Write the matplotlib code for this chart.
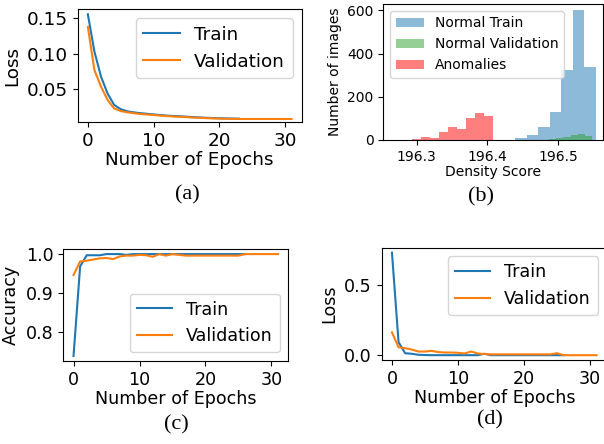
import numpy as np
import matplotlib
matplotlib.use("Agg")
import matplotlib.pyplot as plt

# (a) autoencoder loss per epoch
ae_train_loss = [0.1556, 0.103, 0.068, 0.044, 0.028, 0.022, 0.0190, 0.0175, 0.0164, 0.0155,
                 0.0146, 0.0137, 0.0130, 0.0124, 0.0120, 0.0114, 0.0108, 0.0104, 0.0099, 0.0095,
                 0.0092, 0.0090, 0.0088, 0.0086]
ae_val_loss = [0.138, 0.077, 0.0537, 0.035, 0.023, 0.0194, 0.0176, 0.0163, 0.0153, 0.0145,
               0.0138, 0.0130, 0.0123, 0.0117, 0.0112, 0.0108, 0.0102, 0.0098, 0.0094, 0.0090,
               0.0087, 0.0085, 0.0083, 0.0082, 0.0082, 0.0082, 0.0082, 0.0082, 0.0082, 0.0082,
               0.0082, 0.0082]

# (b) density score histograms (bin edges and counts)
train_edges = [196.4062, 196.4225, 196.4388, 196.4552, 196.4715, 196.4878, 196.5042,
               196.5205, 196.5369, 196.5532]
train_counts = [2, 2, 11, 23, 62, 129, 322, 600, 336]
val_edges = [196.4766, 196.4868, 196.4969, 196.5071, 196.5173, 196.5274, 196.5376, 196.5478]
val_counts = [2, 4, 8, 15, 22, 27, 19]
anom_edges = [196.2929, 196.3056, 196.3183, 196.3310, 196.3437, 196.3565, 196.3692,
              196.3819, 196.3946, 196.4073]
anom_counts = [4, 14, 10, 39, 61, 51, 100, 123, 110]

# (c) classifier accuracy
clf_train_acc = [0.737, 0.968, 0.997, 0.997, 0.997, 1.0, 1.0, 1.0, 0.998, 1.0,
                 1.0, 1.0, 1.0, 1.0, 1.0, 1.0, 1.0, 1.0, 1.0, 1.0,
                 1.0, 1.0, 1.0, 1.0, 1.0, 1.0, 1.0]
clf_val_acc = [0.946, 0.981, 0.983, 0.986, 0.989, 0.990, 0.987, 0.994, 0.996, 0.996,
               0.998, 0.997, 0.993, 1.0, 0.996, 1.0, 0.998, 0.996, 0.996, 0.996,
               0.996, 0.996, 0.996, 0.996, 0.996, 0.996, 1.0, 1.0, 1.0, 1.0,
               1.0, 1.0]

# (d) classifier loss
clf_train_loss = [0.732, 0.094, 0.016, 0.012, 0.005, 0.003, 0.002, 0.002, 0.002, 0.002,
                  0.002, 0.002, 0.002, 0.002, 0.012, 0.002, 0.002, 0.002, 0.002, 0.002,
                  0.002, 0.002, 0.002, 0.002, 0.002, 0.002, 0.002]
clf_val_loss = [0.164, 0.058, 0.052, 0.042, 0.028, 0.028, 0.033, 0.024, 0.021, 0.021,
                0.019, 0.014, 0.028, 0.014, 0.010, 0.008, 0.008, 0.008, 0.008, 0.008,
                0.008, 0.008, 0.008, 0.008, 0.008, 0.016, 0.002, 0.002, 0.002, 0.002,
                0.002, 0.002]

blue, orange = "#1f77b4", "#ff7f0e"

fig = plt.figure(figsize=(6.04, 4.44), dpi=100)


def loss_panel(ax, train, val, fs, loc, ylabel):
    ax.plot(np.arange(len(train)), train, color=blue, lw=1.5, label="Train")
    ax.plot(np.arange(len(val)), val, color=orange, lw=1.5, label="Validation")
    ax.set_xlabel("Number of Epochs", fontsize=fs, labelpad=1)
    ax.set_ylabel(ylabel, fontsize=fs)
    ax.tick_params(labelsize=fs)
    ax.legend(loc=loc, fontsize=fs)


# (a)
ax_a = fig.add_axes([0.1286, 0.7245, 0.3709, 0.2552])
loss_panel(ax_a, ae_train_loss, ae_val_loss, 13.2, "upper right", "Loss")
ax_a.set_ylim(0.0035, 0.163)
ax_a.set_yticks([0.05, 0.10, 0.15])

# (b)
ax_b = fig.add_axes([0.6346, 0.6847, 0.3632, 0.3063])
ax_b.hist(train_edges[:-1], bins=train_edges, weights=train_counts,
          color=blue, alpha=0.5, label="Normal Train")
ax_b.hist(val_edges[:-1], bins=val_edges, weights=val_counts,
          color="#2ca02c", alpha=0.5, label="Normal Validation")
ax_b.hist(anom_edges[:-1], bins=anom_edges, weights=anom_counts,
          color="red", alpha=0.5, label="Anomalies")
ax_b.set_xlim(196.2528, 196.5627)
ax_b.set_xticks([196.3, 196.4, 196.5])
ax_b.ticklabel_format(axis="x", useOffset=False)
ax_b.set_yticks([0, 200, 400, 600])
ax_b.set_xlabel("Density Score", fontsize=10, labelpad=1)
ax_b.set_ylabel("Number of images", fontsize=10)
ax_b.tick_params(labelsize=10)
ax_b.legend(loc="upper left", fontsize=10)

# (c)
ax_c = fig.add_axes([0.1048, 0.1869, 0.3725, 0.2523])
loss_panel(ax_c, clf_train_acc, clf_val_acc, 12.6, "lower right", "Accuracy")
ax_c.set_yticks([0.8, 0.9, 1.0])

# (d)
ax_d = fig.add_axes([0.632, 0.1885, 0.3727, 0.254])
loss_panel(ax_d, clf_train_loss, clf_val_loss, 12.6, "upper right", "Loss")
ax_d.set_yticks([0.0, 0.5])

# sub-figure captions
for x, y, s in [(0.311, 0.561, "(a)"), (0.797, 0.556, "(b)"),
                (0.292, 0.043, "(c)"), (0.811, 0.054, "(d)")]:
    fig.text(x, y, s, ha="center", va="center", fontsize=16, family="Liberation Serif")

fig.savefig("out.png", dpi=100)
